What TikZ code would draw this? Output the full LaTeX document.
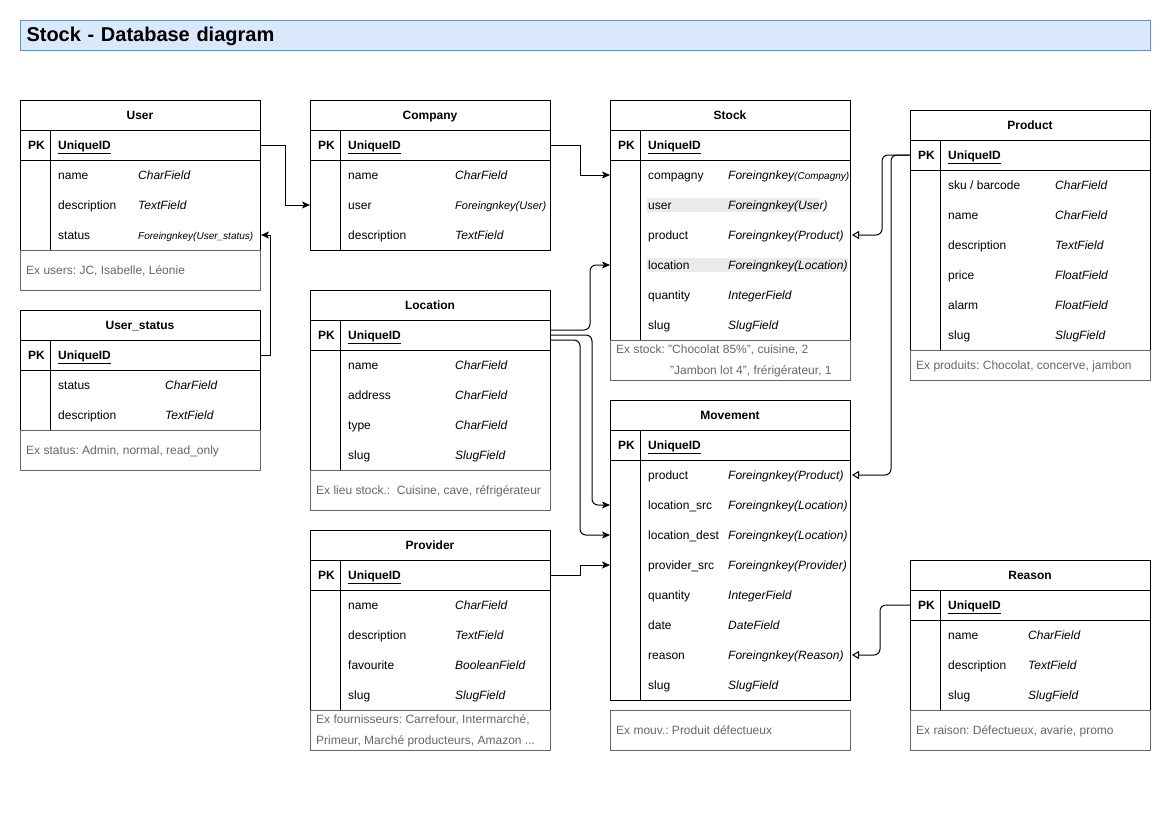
\documentclass[tikz,border=0pt]{standalone}
\usepackage{fontspec}
\setmainfont{Liberation Sans}
\usetikzlibrary{arrows.meta,positioning}
\frenchspacing

\definecolor{headfill}{HTML}{DAE8FC}
\definecolor{headline}{HTML}{6C8EBF}
\definecolor{notegray}{HTML}{666666}
\definecolor{hlgray}{HTML}{EBEBEB}

% smaller fonts for long foreign keys, straight quote
\newcommand{\fksmall}{\fontsize{10}{12}\selectfont}
\newcommand{\fkmid}{\fontsize{11}{13}\selectfont}
\newcommand{\dq}{\symbol{34}}

\tikzset{
  tabhead/.style={draw, line width=1pt, minimum width=240pt, minimum height=30pt,
    inner sep=0pt, outer sep=0pt, text height=10pt, text depth=2pt,
    font=\fontsize{12}{14}\selectfont\bfseries},
  pkrow/.style={draw, line width=1pt, minimum width=240pt, minimum height=30pt,
    inner sep=0pt, outer sep=0pt},
  rowbox/.style={minimum width=240pt, minimum height=30pt, inner sep=0pt, outer sep=0pt},
  field/.style={inner sep=0pt, text height=10pt, text depth=2pt,
    font=\fontsize{12}{14}\selectfont},
  pktext/.style={field, font=\fontsize{12}{14}\selectfont\bfseries},
  ftype/.style={field, font=\fontsize{12}{14}\selectfont\itshape},
  notebox/.style={draw=notegray, line width=1pt, minimum width=240pt, inner sep=0pt, outer sep=0pt},
  notetext/.style={inner sep=0pt, text=notegray, text height=10pt, text depth=2pt,
    font=\fontsize{12}{14}\selectfont},
  notetwo/.style={inner sep=0pt, text=notegray, align=left, yshift=-1pt,
    font=\fontsize{12}{21}\selectfont},
  fk/.style={line width=1pt, -{Stealth[length=8pt,width=7pt,inset=2pt]}},
  fkopen/.style={line width=1pt, -{Triangle[open,length=7pt,width=8pt]},
    rounded corners=6pt, shorten >=2pt},
}

% table: name, x, y, title, type column offset, field/type list
\newcommand{\ertable}[6]{%
  \node[tabhead, anchor=north west] (#1) at (#2,#3) {#4};
  \node[pkrow, below=0pt of #1] (#1-pk) {};
  \node[pktext, anchor=west] (#1-pkl) at ([xshift=8pt]#1-pk.west) {PK};
  \node[pktext, anchor=west] (#1-id) at ([xshift=38pt]#1-pk.west) {\underline{UniqueID}};
  \foreach \f/\t [count=\i] in {#6} {
    \node[rowbox, anchor=north west] (#1-\i) at (#2,#3+30+30*\i) {};
    \node[field, anchor=west] (#1-\i-f) at ([xshift=38pt]#1-\i.west) {\f};
    \node[ftype, anchor=west] (#1-\i-t) at ([xshift=#5pt]#1-\i.west) {\t};
    \xdef\nrows{\i}
  }
  \draw[line width=1pt] (#1-pk.south west) rectangle (#1-\nrows.south east);
  \draw[line width=1pt] ([xshift=30pt]#1-pk.north west) -- ([xshift=30pt]#1-\nrows.south west);
}

% note under a table: [style] name, x, y, height, text
\newcommand{\ernote}[6][notetext]{%
  \node[notebox, anchor=north west, minimum height=#5pt] (#2) at (#3,#4) {};
  \node[#1, anchor=west] (#2-txt) at ([xshift=6pt]#2.west) {#6};
}

\begin{document}
\begin{tikzpicture}[x=1pt, y=-1pt]

    \useasboundingbox (0,0) rectangle (1169,827);

    % Title bar
    \node[draw=headline, fill=headfill, line width=1pt, anchor=north west,
      text width=1118pt, inner xsep=6pt, minimum height=30pt, align=left,
      text height=16pt, text depth=4pt,
      font=\fontsize{20}{24}\selectfont\bfseries] (title) at (20,20) {Stock - Database diagram};

    % Highlighted rows in Stock
    \fill[hlgray] (647,198) rectangle (819,212);
    \fill[hlgray] (647,258) rectangle (848,272);

    % Left column
    \ertable{user}{20}{100}{User}{118}{name/CharField, description/TextField,
      status/{\fksmall Foreingnkey(User\_status)}}
    \ernote{user-note}{20}{250}{40}{Ex users: JC, Isabelle, Léonie}

    \ertable{ustatus}{20}{310}{User\_status}{145}{status/CharField, description/TextField}
    \ernote{ustatus-note}{20}{430}{40}{Ex status: Admin, normal, read\_only}

    % Second column
    \ertable{company}{310}{100}{Company}{145}{name/CharField,
      user/{\fkmid Foreingnkey(User)}, description/TextField}

    \ertable{location}{310}{290}{Location}{145}{name/CharField, address/CharField,
      type/CharField, slug/SlugField}
    \ernote{location-note}{310}{470}{40}{Ex lieu stock.:\ \ Cuisine, cave, réfrigérateur}

    \ertable{provider}{310}{530}{Provider}{145}{name/CharField, description/TextField,
      favourite/BooleanField, slug/SlugField}
    \ernote[notetwo]{provider-note}{310}{710}{40}{Ex fournisseurs: Carrefour, Intermarché,\\
      Primeur, Marché producteurs, Amazon ...}

    % Third column
    \ertable{stock}{610}{100}{Stock}{118}{compagny/{Foreingnkey{\fksmall(Compagny)}},
      user/Foreingnkey(User), product/Foreingnkey(Product),
      location/Foreingnkey(Location), quantity/IntegerField, slug/SlugField}
    \ernote[notetwo]{stock-note}{610}{340}{40}{Ex stock: \dq Chocolat 85\%\dq, cuisine, 2\\
      \hspace*{54pt}\dq Jambon lot 4\dq, frérigérateur, 1}

    \ertable{movement}{610}{400}{Movement}{118}{product/Foreingnkey(Product),
      location\_src/Foreingnkey(Location), location\_dest/Foreingnkey(Location),
      provider\_src/Foreingnkey(Provider), quantity/IntegerField, date/DateField,
      reason/Foreingnkey(Reason), slug/SlugField}
    \ernote{movement-note}{610}{710}{40}{Ex mouv.: Produit défectueux}

    % Right column
    \ertable{product}{910}{110}{Product}{145}{{sku / barcode}/CharField, name/CharField,
      description/TextField, price/FloatField, alarm/FloatField, slug/SlugField}
    \ernote{product-note}{910}{350}{30}{Ex produits: Chocolat, concerve, jambon}

    \ertable{reason}{910}{560}{Reason}{118}{name/CharField, description/TextField,
      slug/SlugField}
    \ernote{reason-note}{910}{710}{40}{Ex raison: Défectueux, avarie, promo}

    % Foreign keys
    \draw[fk] (user-pk.east) -- ++(25,0) |- (company-2.west);
    \draw[fk, shorten >=1pt] (ustatus-pk.east) -- ++(10,0) |- (user-3.east);
    \draw[fk] (company-pk.east) -- ++(30,0) |- (stock-1.west);
    \draw[fk] (provider-pk.east) -- ++(30,0) |- (movement-4.west);
    \draw[fk, rounded corners=6pt] ([yshift=5pt]location-pk.east) -- ++(40,0) |- (stock-4.west);
    \draw[fk, rounded corners=6pt] (location-pk.east) -- ++(42,0) |- (movement-2.west);
    \draw[fk, rounded corners=6pt] ([yshift=-5pt]location-pk.east) -- ++(30,0) |- (movement-3.west);

    % Links to Product and Reason
    \draw[fkopen] (product-pk.west) -- ++(-28,0) |- (stock-3.east);
    \draw[fkopen] (product-pk.west) -- ++(-19,0) |- (movement-1.east);
    \draw[fkopen] (reason-pk.west) -- ++(-30,0) |- (movement-7.east);

\end{tikzpicture}
\end{document}
